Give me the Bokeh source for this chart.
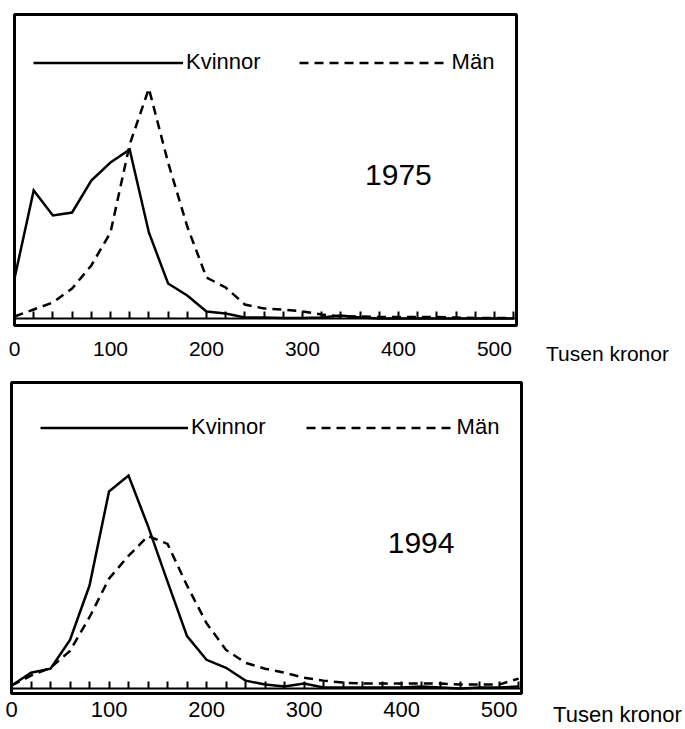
from bokeh.plotting import figure
from bokeh.models import Range1d, LinearAxis, FixedTicker, Legend, LegendItem, Label
from bokeh.layouts import column, row
from bokeh.embed import file_html
from bokeh.resources import INLINE

# Income classes (thousand SEK), share of each group (%) per 20k class
inkomst = list(range(0, 521, 20))

kvinnor_1975 = [4.0, 12.8, 10.3, 10.6, 13.8, 15.6, 16.9, 8.6, 3.5, 2.3, 0.7, 0.5, 0.1, 0.1,
                0.05, 0.05, 0.1, 0.3, 0.1, 0.0, 0.0, 0.0, 0.0, 0.0, 0.0, 0.0, 0.0]
maen_1975 = [0.2, 0.9, 1.6, 3.0, 5.3, 8.6, 17.4, 23.0, 15.6, 9.2, 4.1, 3.1, 1.4, 1.0,
             0.9, 0.7, 0.4, 0.2, 0.2, 0.15, 0.15, 0.15, 0.15, 0.1, 0.05, 0.05, 0.05]

kvinnor_1994 = [0.3, 1.6, 2.0, 4.9, 10.4, 19.9, 21.5, 16.4, 10.8, 5.3, 2.9, 2.1, 0.8, 0.4,
                0.2, 0.5, 0.1, 0.1, 0.1, 0.1, 0.1, 0.2, 0.1, 0.0, 0.1, 0.1, 0.2]
maen_1994 = [0.3, 1.3, 2.1, 3.8, 7.2, 11.1, 13.4, 15.4, 14.6, 10.4, 6.6, 3.9, 2.6, 2.0,
             1.6, 1.1, 0.8, 0.6, 0.5, 0.5, 0.5, 0.5, 0.5, 0.4, 0.4, 0.4, 1.0]

tick_steps = list(range(0, 521, 20))
label_ticks = [0, 100, 200, 300, 400, 500]
series_names = ["Kvinnor", "Män"]
years = ["1975", "1994"]
unit_label = "Tusen kronor"

FONT = "Liberation Sans"


def panel(year, kv, ma, fig_w, fig_h, b_top, b_bottom, b_left, b_right, yr, leg_xy,
          glyph_w, spacing, year_xy, lab_size, standoff):
    p = figure(width=fig_w, height=fig_h, x_range=Range1d(0, 523), y_range=Range1d(*yr),
               x_axis_type=None, y_axis_type=None, toolbar_location=None,
               output_backend="svg", min_border_top=b_top, min_border_bottom=b_bottom,
               min_border_left=b_left, min_border_right=b_right)
    p.outline_line_color = "black"
    p.outline_line_width = 3
    p.background_fill_color = "white"
    p.border_fill_color = "white"

    tick_axis = LinearAxis(fixed_location=0,
                           ticker=FixedTicker(ticks=tick_steps, minor_ticks=[]),
                           axis_line_width=2, axis_line_color="black",
                           major_tick_line_width=2, major_tick_line_color="black",
                           major_tick_in=7, major_tick_out=0,
                           minor_tick_line_alpha=0,
                           major_label_overrides={t: "" for t in tick_steps})
    p.add_layout(tick_axis, "below")

    lab_axis = LinearAxis(ticker=FixedTicker(ticks=label_ticks, minor_ticks=[]),
                          axis_line_alpha=0, major_tick_in=0, major_tick_out=0,
                          minor_tick_line_alpha=0, major_label_standoff=standoff,
                          major_label_text_font=FONT,
                          major_label_text_font_size=f"{lab_size}px",
                          major_label_text_color="black")
    p.add_layout(lab_axis, "below")

    r_m = p.line(inkomst, ma, line_color="black", line_width=2.5, line_dash="9 6",
                 line_join="miter")
    r_k = p.line(inkomst, kv, line_color="black", line_width=2.5, line_join="miter")

    legend = Legend(items=[LegendItem(label=series_names[0], renderers=[r_k]),
                           LegendItem(label=series_names[1], renderers=[r_m])],
                    orientation="horizontal", location=leg_xy,
                    glyph_width=glyph_w, glyph_height=25, label_height=25,
                    label_standoff=3, spacing=spacing, padding=0, margin=0,
                    border_line_alpha=0, background_fill_alpha=0,
                    label_text_font=FONT, label_text_font_size="22px",
                    label_text_color="black")
    p.add_layout(legend)

    p.add_layout(Label(x=year_xy[0], y=year_xy[1], text=year, text_font=FONT,
                       text_font_size="30px", text_align="center",
                       text_baseline="middle", text_color="black"))
    return p


def unit_box(fig_w, fig_h, b_top, b_bottom, x_center, lab_size, standoff):
    # narrow companion plot whose only axis label carries the unit text,
    # so it lines up with the tick labels of the panel to its left
    q = figure(width=fig_w, height=fig_h, x_range=Range1d(0, fig_w),
               y_range=Range1d(0, 1), x_axis_type=None, y_axis_type=None,
               toolbar_location=None, output_backend="svg",
               min_border_left=0, min_border_right=0,
               min_border_top=b_top, min_border_bottom=b_bottom)
    q.outline_line_color = None
    q.background_fill_color = "white"
    q.border_fill_color = "white"
    ax = LinearAxis(ticker=FixedTicker(ticks=[x_center], minor_ticks=[]),
                    axis_line_alpha=0, major_tick_in=0, major_tick_out=0,
                    minor_tick_line_alpha=0, major_label_standoff=standoff,
                    major_label_overrides={x_center: unit_label},
                    major_label_text_font=FONT,
                    major_label_text_font_size=f"{lab_size}px",
                    major_label_text_color="black")
    q.add_layout(ax, "below")
    return q


p1 = panel(years[0], kvinnor_1975, maen_1975, 541, 367, 14, 42, 14, 25, (-0.7, 30.4),
           (19, 250), 150, 38, (400, 14.4), 21, 16)
q1 = unit_box(144, 367, 14, 42, 66, 21, 16)

p2 = panel(years[1], kvinnor_1994, maen_1994, 541, 362, 15, 33, 11, 20, (-0.5, 30.9),
           (29, 253), 148, 40, (420, 14.7), 22, 8)
q2 = unit_box(144, 362, 15, 33, 76, 22, 8)

layout = column(row(p1, q1), row(p2, q2))
open("out.html", "w").write(file_html(layout, INLINE))
